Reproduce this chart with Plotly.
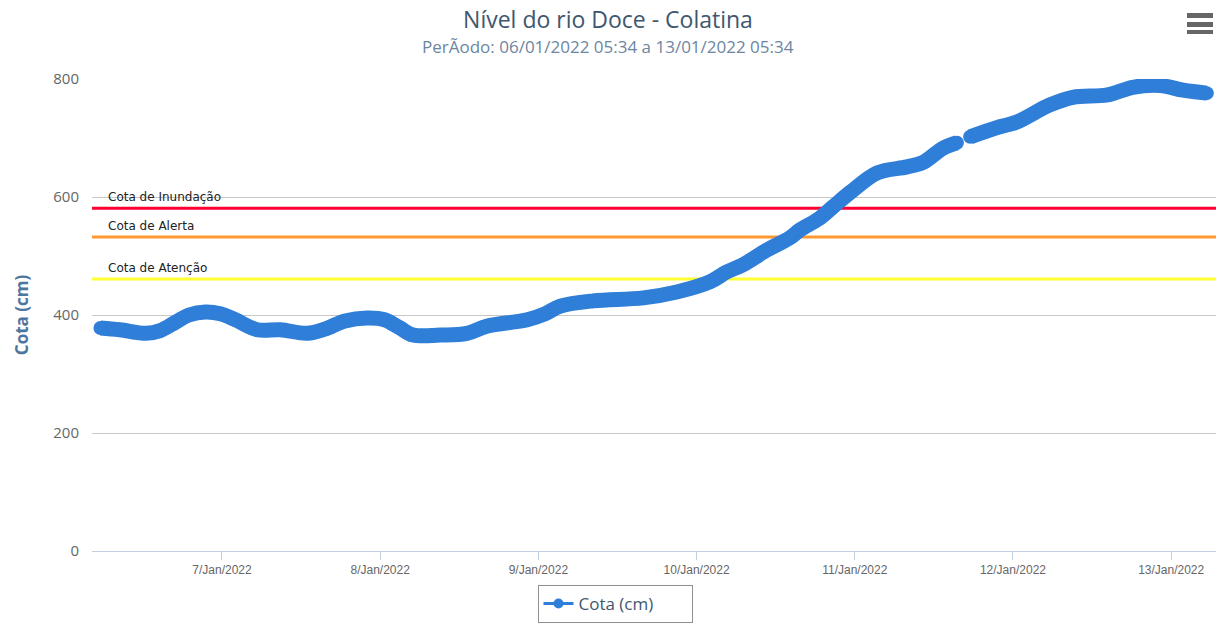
import plotly.graph_objects as go

# ---- data ----
times = [
    "2022-01-06 05:34", "2022-01-06 08:30", "2022-01-06 12:30", "2022-01-06 14:30",
    "2022-01-06 17:00", "2022-01-06 19:00", "2022-01-06 21:30", "2022-01-06 23:45",
    "2022-01-07 02:00", "2022-01-07 05:20", "2022-01-07 08:50", "2022-01-07 12:55",
    "2022-01-07 15:35", "2022-01-07 18:40", "2022-01-07 22:00", "2022-01-08 00:40",
    "2022-01-08 03:00", "2022-01-08 05:00", "2022-01-08 09:05", "2022-01-08 13:10",
    "2022-01-08 16:10", "2022-01-08 22:20", "2022-01-09 01:00", "2022-01-09 03:20",
    "2022-01-09 08:20", "2022-01-09 15:55", "2022-01-09 21:00", "2022-01-10 02:00",
    "2022-01-10 04:35", "2022-01-10 07:00", "2022-01-10 10:40", "2022-01-10 14:10",
    "2022-01-10 15:40", "2022-01-10 18:40", "2022-01-10 20:40", "2022-01-10 23:20",
    "2022-01-11 03:25", "2022-01-11 07:55", "2022-01-11 10:25", "2022-01-11 13:25",
    "2022-01-11 15:30", "2022-01-11 16:25", "2022-01-11 17:30", "2022-01-11 22:00",
    "2022-01-12 00:35", "2022-01-12 05:35", "2022-01-12 09:05", "2022-01-12 14:20",
    "2022-01-12 18:10", "2022-01-12 22:20", "2022-01-13 01:50", "2022-01-13 05:24",
]
cota = [
    378, 375, 369, 373,
    388, 400, 405, 402,
    392, 375, 375, 369,
    376, 390, 395, 392,
    378, 366, 366, 369,
    381, 392, 402, 415,
    424, 429, 439, 456,
    473, 485, 510, 531,
    544, 564, 583, 608,
    641, 651, 659, 683,
    692, None, 702, 719,
    727, 756, 769, 773,
    786, 789, 781, 776,
]

ref_names = ["Cota de Inundação", "Cota de Alerta", "Cota de Atenção"]
ref_values = [581, 532, 461]
ref_colors = ["#FF0033", "#FF9933", "#FFFF33"]

x_ticks = ["2022-01-07", "2022-01-08", "2022-01-09", "2022-01-10",
           "2022-01-11", "2022-01-12", "2022-01-13"]
x_tick_labels = ["7/Jan/2022", "8/Jan/2022", "9/Jan/2022", "10/Jan/2022",
                 "11/Jan/2022", "12/Jan/2022", "13/Jan/2022"]
y_ticks = [0, 200, 400, 600, 800]

title_text = "Nível do rio Doce - Colatina"
subtitle_text = "PerÃodo: 06/01/2022 05:34 a 13/01/2022 05:34"

# ---- layout geometry ----
W, H = 1223, 627
ML, MR, MT, MB = 92, 7, 79, 76
PW, PH = W - ML - MR, H - MT - MB

def px(xp):
    return (xp - ML) / PW

def py(yp):
    return (H - MB - yp) / PH

SERIES_COLOR = "#2F7ED8"
FONT = "Open Sans, Noto Sans, sans-serif"

fig = go.Figure()

# reference lines
for name, val, col in zip(ref_names, ref_values, ref_colors):
    fig.add_shape(type="line", xref="paper", yref="y", x0=0, x1=1, y0=val, y1=val,
                  line=dict(color=col, width=3), layer="below")
    fig.add_annotation(text=name, xref="paper", yref="y", x=px(106), y=val,
                       xanchor="left", yanchor="bottom", yshift=2, showarrow=False,
                       font=dict(family="DejaVu Sans, sans-serif", size=12, color="#222222"))

# main series (thick)
fig.add_trace(go.Scatter(
    x=times, y=cota, mode="lines+markers", name="Cota (cm)",
    line=dict(color=SERIES_COLOR, width=15, shape="spline", smoothing=1.0),
    marker=dict(color=SERIES_COLOR, size=14),
    connectgaps=False, showlegend=False, hoverinfo="skip",
))
# legend entry
fig.add_trace(go.Scatter(
    x=[None], y=[None], mode="lines+markers", name="Cota (cm)",
    line=dict(color=SERIES_COLOR, width=3), marker=dict(color=SERIES_COLOR, size=10),
    showlegend=True,
))

# hamburger menu icon
for y0, y1 in [(13, 18), (22, 27), (30, 34)]:
    fig.add_shape(type="rect", xref="paper", yref="paper",
                  x0=px(1187), x1=px(1213), y0=py(y1), y1=py(y0),
                  fillcolor="#666666", line=dict(width=0))

# subtitle
fig.add_annotation(text=subtitle_text, xref="paper", yref="paper",
                   x=px(608), y=py(46), xanchor="center", yanchor="middle",
                   showarrow=False, font=dict(family=FONT, size=17, color="#6D869F"))

fig.update_layout(
    width=W, height=H,
    margin=dict(l=ML, r=MR, t=MT, b=MB, autoexpand=False),
    paper_bgcolor="white", plot_bgcolor="white",
    title=dict(
        text=title_text, xref="paper", x=px(608), xanchor="center",
        yref="container", y=1 - 20 / H, yanchor="middle",
        font=dict(family=FONT, size=23, color="#3E576F"),
    ),
    showlegend=True,
    legend=dict(
        orientation="h", x=px(615), xanchor="center", y=py(585), yanchor="top",
        bordercolor="#909090", borderwidth=1, bgcolor="white",
        font=dict(family=FONT, size=17, color="#3E576F"),
        entrywidth=108,
    ),
    xaxis=dict(
        type="date", automargin=False,
        range=["2022-01-06 04:17", "2022-01-13 06:48"],
        tickvals=x_ticks, ticktext=x_tick_labels,
        showgrid=False, showline=True, linecolor="#C0D0E0", linewidth=1,
        ticks="outside", ticklen=8, tickcolor="#C0D0E0",
        tickfont=dict(family="Liberation Sans, Arial, sans-serif", size=12, color="#666666"),
        zeroline=False, fixedrange=True,
    ),
    yaxis=dict(
        range=[0, 800], tickvals=y_ticks, automargin=False,
        showgrid=True, gridcolor="#C8C8C8", gridwidth=1,
        zeroline=False, showline=False, ticks="", ticklabelstandoff=12,
        tickfont=dict(family=FONT, size=15, color="#666666"),
        title=dict(text="<b>Cota (cm)</b>", standoff=20,
                   font=dict(family=FONT, size=17, color="#4D759E")),
        fixedrange=True,
    ),
)

fig.write_html("out.html", config={"displayModeBar": False},
               post_script="document.body.style.margin='0';document.body.style.padding='0';")
